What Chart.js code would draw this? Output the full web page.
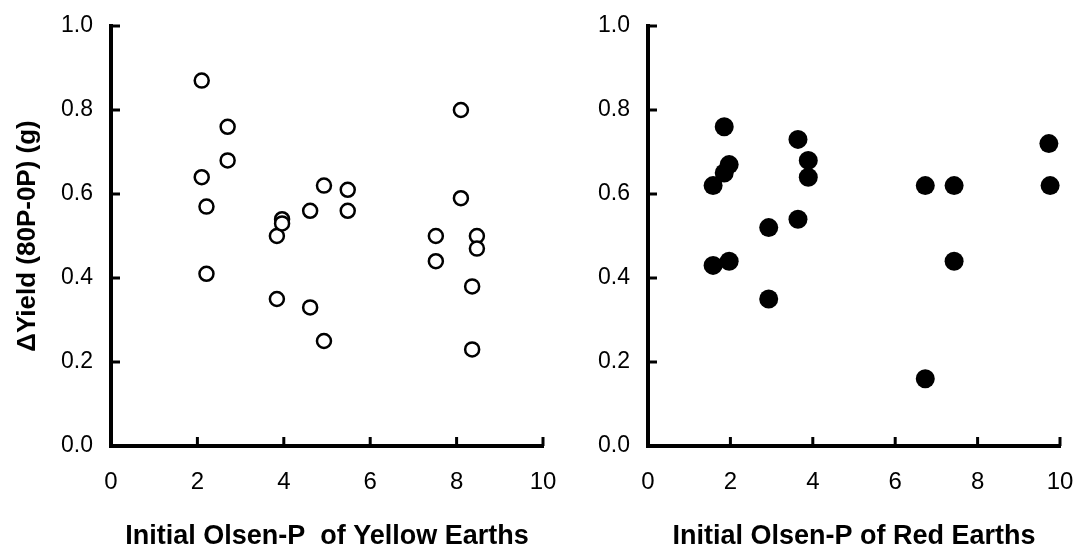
<!DOCTYPE html>
<html>
<head>
<meta charset="utf-8">
<script src="https://cdn.jsdelivr.net/npm/chart.js@4.4.1/dist/chart.umd.min.js"></script>
<style>
  html, body { margin: 0; padding: 0; background: #fff; }
  #wrap { position: relative; width: 1087px; height: 547px; overflow: hidden; }
  #c1 { position: absolute; left: 0; top: 0; }
  #c2 { position: absolute; left: 560px; top: 0; }
</style>
</head>
<body>
<div id="wrap">
  <canvas id="c1" width="560" height="547"></canvas>
  <canvas id="c2" width="527" height="547"></canvas>
</div>
<script>
// ---- data ----
const yellowX = [2.10, 2.70, 2.70, 2.10, 2.21, 2.21, 3.84, 3.96, 3.96, 3.84, 4.61, 4.61, 4.93, 4.93, 5.48, 5.48, 8.10, 8.10, 7.52, 7.52, 8.47, 8.47, 8.36, 8.36];
const yellowY = [0.87, 0.76, 0.68, 0.64, 0.57, 0.41, 0.50, 0.54, 0.53, 0.35, 0.56, 0.33, 0.62, 0.25, 0.61, 0.56, 0.80, 0.59, 0.50, 0.44, 0.50, 0.47, 0.38, 0.23];
const redX = [1.85, 1.58, 1.85, 1.97, 1.58, 1.97, 2.93, 2.93, 3.64, 3.64, 3.89, 3.89, 6.73, 6.73, 7.43, 7.43, 9.73, 9.76];
const redY = [0.76, 0.62, 0.65, 0.67, 0.43, 0.44, 0.52, 0.35, 0.73, 0.54, 0.68, 0.64, 0.62, 0.16, 0.62, 0.44, 0.72, 0.62];
const xTickValues = [0, 2, 4, 6, 8, 10];
const yTickValues = [0, 0.2, 0.4, 0.6, 0.8, 1.0];
const yTitle = '\u0394Yield (80P-0P) (g)';
const xTitleLeft = 'Initial Olsen-P  of Yellow Earths';
const xTitleRight = 'Initial Olsen-P of Red Earths';

Chart.defaults.font.family = "'Liberation Sans', Arial, sans-serif";
Chart.defaults.color = '#000';

const toPoints = (xs, ys) => xs.map((x, i) => ({ x: x, y: ys[i] }));

const inwardTicks = {
  id: 'inwardTicks',
  afterDraw(chart) {
    const { ctx, chartArea } = chart;
    const xs = chart.scales.x, ys = chart.scales.y;
    ctx.save();
    ctx.strokeStyle = '#000';
    ctx.lineWidth = 3;
    xs.ticks.forEach(t => {
      if (t.value === 0) return;
      const px = xs.getPixelForValue(t.value);
      ctx.beginPath();
      ctx.moveTo(px, chartArea.bottom);
      ctx.lineTo(px, chartArea.bottom - 9);
      ctx.stroke();
    });
    ys.ticks.forEach(t => {
      if (t.value === 0) return;
      const py = ys.getPixelForValue(t.value);
      ctx.beginPath();
      ctx.moveTo(chartArea.left, py);
      ctx.lineTo(chartArea.left + 9, py);
      ctx.stroke();
    });
    ctx.restore();
  }
};

function makeChart(id, data, pointStyle, yAxisWidth, padRight, showYTitle, xTitle) {
  return new Chart(document.getElementById(id), {
    type: 'scatter',
    data: {
      datasets: [{
        data: data,
        pointRadius: pointStyle.r,
        pointHoverRadius: pointStyle.r,
        pointBackgroundColor: pointStyle.fill,
        pointBorderColor: '#000',
        pointBorderWidth: pointStyle.bw,
        showLine: false
      }]
    },
    options: {
      responsive: false,
      devicePixelRatio: 1,
      animation: false,
      events: [],
      clip: false,
      layout: { padding: { left: 0, right: padRight, top: 26, bottom: 0 } },
      plugins: { legend: { display: false }, tooltip: { enabled: false } },
      scales: {
        x: {
          type: 'linear',
          min: 0, max: 10,
          afterBuildTicks: s => { s.ticks = xTickValues.map(v => ({ value: v })); },
          afterFit: s => { s.height = 101; s.paddingLeft = 0; s.paddingRight = 0; },
          grid: { display: false, drawTicks: false },
          border: { display: true, color: '#000', width: 4 },
          ticks: { font: { size: 24 }, padding: 22, maxRotation: 0, callback: v => String(v) },
          title: { display: true, text: xTitle, font: { size: 27, weight: 'bold' }, padding: { top: 0, bottom: -6 } }
        },
        y: {
          type: 'linear',
          min: 0, max: 1,
          afterBuildTicks: s => { s.ticks = yTickValues.map(v => ({ value: v })); },
          afterFit: s => { s.width = yAxisWidth; s.paddingTop = 0; s.paddingBottom = 0; },
          grid: { display: false, drawTicks: false },
          border: { display: true, color: '#000', width: 4 },
          ticks: { font: { size: 23 }, padding: 18, callback: v => Number(v).toFixed(1) },
          title: { display: showYTitle, text: yTitle, font: { size: 26, weight: 'bold' }, padding: { top: 12, bottom: 0 } }
        }
      }
    },
    plugins: [inwardTicks]
  });
}

makeChart('c1', toPoints(yellowX, yellowY), { r: 7, fill: '#fff', bw: 2.5 }, 111, 17, true, xTitleLeft);
makeChart('c2', toPoints(redX, redY), { r: 9.5, fill: '#000', bw: 0 }, 88, 27, false, xTitleRight);
</script>
</body>
</html>
